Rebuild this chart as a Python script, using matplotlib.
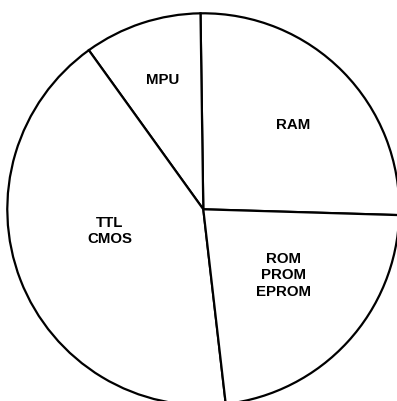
import matplotlib

matplotlib.use("Agg")
import matplotlib.pyplot as plt
import numpy as np

# slice shares (percent)
categories = ["RAM", "MPU", "TTL\nCMOS", "ROM\nPROM\nEPROM"]
shares = [25.7, 9.7, 41.9, 22.7]

# label placement: angle (deg) and distance as fraction of radius
label_angles = [43.2, 107.3, 193.0, -39.5]
label_dists = [0.63, 0.69, 0.49, 0.53]

W, H = 397, 401
R_PX = 196.0
CX, CY = 203.3, 401 - 209.3

fig = plt.figure(figsize=(W / 100, H / 100), dpi=100)
ax = fig.add_axes([0, 0, 1, 1])
ax.pie(
    shares,
    startangle=-1.7,
    counterclock=True,
    colors=["white"] * len(shares),
    wedgeprops={"edgecolor": "black", "linewidth": 1.6},
    radius=1.0,
)
for text, ang, dist in zip(categories, label_angles, label_dists):
    a = np.deg2rad(ang)
    ax.text(
        dist * np.cos(a), dist * np.sin(a), text,
        ha="center", va="center", fontsize=10.8, fontweight="bold",
        family="Liberation Sans", linespacing=1.25,
    )
ax.set_xlim(-CX / R_PX, (W - CX) / R_PX)
ax.set_ylim(-CY / R_PX, (H - CY) / R_PX)
ax.set_aspect("equal")
ax.axis("off")
fig.savefig("out.png", dpi=100, facecolor="white")
